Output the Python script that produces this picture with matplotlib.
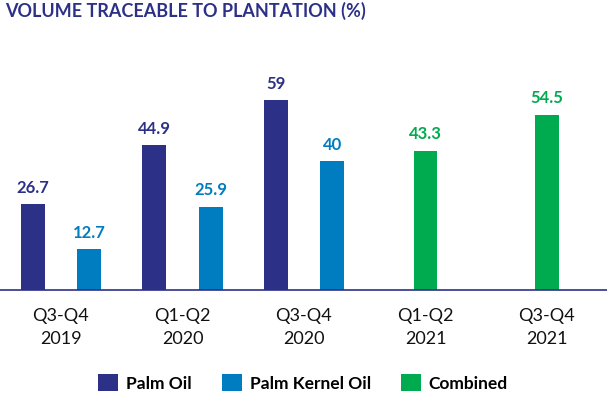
import matplotlib
matplotlib.use('Agg')
import matplotlib.pyplot as plt
import numpy as np

plt.rcParams['font.family'] = ['Lato', 'DejaVu Sans']

# data
periods = ['Q3-Q4\n2019', 'Q1-Q2\n2020', 'Q3-Q4\n2020', 'Q1-Q2\n2021', 'Q3-Q4\n2021']
palm_oil = [26.7, 44.9, 59]
palm_kernel_oil = [12.7, 25.9, 40]
combined = [43.3, 54.5]

c_palm = '#2C3187'
c_pko = '#007DC0'
c_comb = '#00AB4F'

fig = plt.figure(figsize=(6.07, 3.93), dpi=100)
ax = fig.add_axes([0, 0.262, 1, 0.6555])

x = np.arange(len(periods))
w = 0.195
off = 0.232

b1 = ax.bar(x[:3] - off, palm_oil, w, color=c_palm, label='Palm Oil')
b2 = ax.bar(x[:3] + off, palm_kernel_oil, w, color=c_pko, label='Palm Kernel Oil')
b3 = ax.bar(x[3:], combined, w, color=c_comb, label='Combined')

for bars, col in [(b1, c_palm), (b2, c_pko), (b3, c_comb)]:
    ax.bar_label(bars, padding=6, color=col, fontsize=12, fontweight='bold')

ax.set_xlim(-0.502, 4.494)
ax.set_ylim(0, 80)
ax.set_yticks([])
ax.set_xticks(x)
ax.set_xticklabels(periods, fontsize=13, linespacing=1.55, color='#111111')
ax.tick_params(axis='x', length=0, pad=13)
for s in ['top', 'right', 'left']:
    ax.spines[s].set_visible(False)
ax.spines['bottom'].set_color(c_palm)
ax.spines['bottom'].set_linewidth(1.2)

fig.text(5 / 607, 1 - 2 / 393, 'VOLUME TRACEABLE TO PLANTATION (%)',
         ha='left', va='top', fontsize=13, fontweight='bold', color=c_palm)

fig.legend(handles=[b1, b2, b3], loc='center', bbox_to_anchor=(303 / 607, 1 - 383 / 393),
           ncol=3, frameon=False, prop={'size': 12.5, 'weight': 'bold'},
           handlelength=1.15, handleheight=1.1, handletextpad=0.45, columnspacing=1.75,
           borderpad=0, borderaxespad=0)

fig.savefig('out.png', dpi=100)
